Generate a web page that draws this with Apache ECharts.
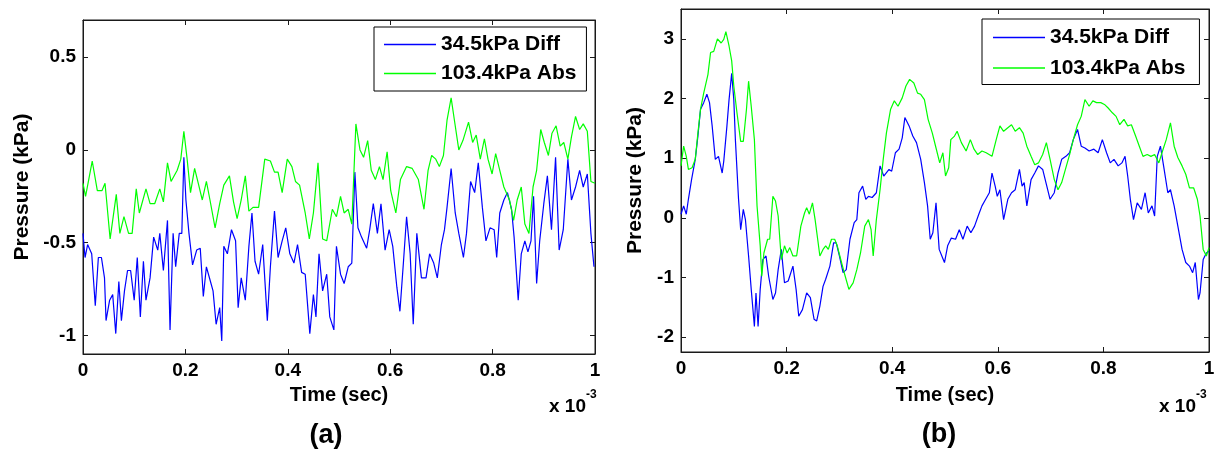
<!DOCTYPE html>
<html>
<head>
<meta charset="utf-8">
<title>Pressure vs time</title>
<script src="https://cdn.jsdelivr.net/npm/echarts@6/dist/echarts.min.js"></script>
<style>
  html, body { margin: 0; padding: 0; background: #fff; }
  #chart { width: 1218px; height: 453px; }
</style>
</head>
<body>
<div id="chart"></div>
<script>
// time in units of 1e-3 s, pressure in kPa
const diffA = [[0.000,-0.45],[0.004,-0.58],[0.009,-0.51],[0.017,-0.56],[0.024,-0.84],[0.030,-0.58],[0.036,-0.58],[0.042,-0.69],[0.045,-0.92],[0.052,-0.81],[0.058,-0.78],[0.064,-0.99],[0.070,-0.71],[0.075,-0.92],[0.081,-0.76],[0.087,-0.65],[0.093,-0.65],[0.100,-0.81],[0.106,-0.58],[0.112,-0.90],[0.118,-0.60],[0.123,-0.81],[0.131,-0.69],[0.138,-0.47],[0.146,-0.54],[0.150,-0.45],[0.157,-0.65],[0.165,-0.38],[0.170,-0.97],[0.176,-0.45],[0.181,-0.63],[0.188,-0.45],[0.193,-0.45],[0.197,-0.04],[0.201,-0.27],[0.207,-0.45],[0.214,-0.62],[0.222,-0.54],[0.229,-0.53],[0.235,-0.79],[0.241,-0.63],[0.248,-0.70],[0.254,-0.76],[0.260,-0.94],[0.267,-0.85],[0.271,-1.03],[0.275,-0.52],[0.282,-0.56],[0.290,-0.43],[0.298,-0.49],[0.303,-0.85],[0.309,-0.69],[0.317,-0.81],[0.324,-0.52],[0.330,-0.34],[0.336,-0.60],[0.343,-0.67],[0.351,-0.51],[0.360,-0.92],[0.366,-0.63],[0.374,-0.33],[0.381,-0.58],[0.389,-0.49],[0.396,-0.42],[0.404,-0.56],[0.412,-0.61],[0.419,-0.51],[0.427,-0.66],[0.434,-0.67],[0.443,-0.99],[0.450,-0.78],[0.455,-0.90],[0.461,-0.56],[0.468,-0.76],[0.476,-0.67],[0.482,-0.90],[0.490,-0.97],[0.495,-0.52],[0.503,-0.67],[0.510,-0.72],[0.518,-0.63],[0.525,-0.61],[0.531,-0.12],[0.537,-0.42],[0.544,-0.47],[0.554,-0.53],[0.560,-0.43],[0.567,-0.29],[0.575,-0.45],[0.582,-0.29],[0.590,-0.54],[0.598,-0.43],[0.605,-0.52],[0.613,-0.74],[0.619,-0.87],[0.626,-0.60],[0.632,-0.36],[0.639,-0.56],[0.645,-0.94],[0.652,-0.45],[0.661,-0.69],[0.670,-0.69],[0.677,-0.56],[0.685,-0.61],[0.692,-0.69],[0.700,-0.51],[0.706,-0.43],[0.711,-0.31],[0.719,-0.10],[0.727,-0.34],[0.734,-0.45],[0.743,-0.58],[0.749,-0.45],[0.757,-0.17],[0.765,-0.23],[0.772,-0.07],[0.780,-0.31],[0.787,-0.49],[0.795,-0.42],[0.803,-0.43],[0.808,-0.58],[0.814,-0.34],[0.822,-0.27],[0.829,-0.23],[0.837,-0.32],[0.842,-0.47],[0.850,-0.81],[0.856,-0.56],[0.863,-0.49],[0.869,-0.55],[0.875,-0.49],[0.880,-0.25],[0.886,-0.72],[0.892,-0.49],[0.900,-0.29],[0.907,-0.14],[0.915,-0.43],[0.923,-0.04],[0.930,-0.54],[0.938,-0.43],[0.947,-0.05],[0.954,-0.27],[0.962,-0.20],[0.970,-0.11],[0.977,-0.20],[0.985,-0.13],[0.992,-0.45],[0.998,-0.63]]

const absA = [[0.000,-0.18],[0.005,-0.25],[0.018,-0.06],[0.028,-0.22],[0.037,-0.22],[0.043,-0.18],[0.053,-0.48],[0.065,-0.24],[0.072,-0.45],[0.080,-0.36],[0.089,-0.45],[0.096,-0.45],[0.104,-0.21],[0.110,-0.34],[0.123,-0.21],[0.131,-0.29],[0.140,-0.29],[0.150,-0.21],[0.157,-0.28],[0.165,-0.07],[0.172,-0.17],[0.184,-0.11],[0.191,-0.05],[0.197,0.10],[0.203,-0.04],[0.210,-0.23],[0.218,-0.10],[0.226,-0.19],[0.233,-0.27],[0.241,-0.17],[0.248,-0.27],[0.258,-0.42],[0.267,-0.29],[0.275,-0.19],[0.286,-0.14],[0.294,-0.28],[0.301,-0.37],[0.309,-0.27],[0.317,-0.14],[0.324,-0.33],[0.332,-0.31],[0.343,-0.31],[0.355,-0.05],[0.366,-0.06],[0.374,-0.12],[0.381,-0.12],[0.389,-0.23],[0.399,-0.05],[0.408,-0.09],[0.415,-0.17],[0.423,-0.19],[0.434,-0.34],[0.442,-0.48],[0.450,-0.34],[0.459,-0.07],[0.468,-0.48],[0.476,-0.49],[0.487,-0.32],[0.495,-0.36],[0.503,-0.25],[0.510,-0.34],[0.518,-0.32],[0.525,-0.40],[0.533,0.14],[0.541,0.00],[0.548,-0.04],[0.556,0.05],[0.563,-0.11],[0.571,-0.16],[0.579,-0.09],[0.586,-0.16],[0.594,-0.01],[0.601,-0.22],[0.611,-0.34],[0.620,-0.16],[0.632,-0.09],[0.643,-0.10],[0.655,-0.16],[0.666,-0.32],[0.674,-0.11],[0.681,-0.03],[0.689,-0.05],[0.696,-0.09],[0.704,-0.03],[0.711,0.16],[0.719,0.28],[0.727,0.13],[0.734,0.00],[0.742,0.05],[0.753,0.15],[0.761,0.04],[0.768,0.08],[0.776,-0.05],[0.784,0.06],[0.791,-0.05],[0.799,-0.13],[0.806,-0.02],[0.814,-0.11],[0.822,-0.20],[0.833,-0.27],[0.841,-0.38],[0.848,-0.27],[0.856,-0.20],[0.863,-0.40],[0.871,-0.45],[0.879,-0.20],[0.886,-0.11],[0.894,0.11],[0.901,0.04],[0.909,-0.03],[0.916,0.09],[0.924,0.13],[0.932,0.02],[0.939,0.04],[0.947,-0.05],[0.954,0.07],[0.962,0.18],[0.970,0.11],[0.977,0.14],[0.985,0.10],[0.992,-0.17],[1.000,-0.18]]

const diffB = [[0.000,0.06],[0.005,0.20],[0.010,0.06],[0.014,0.31],[0.020,0.64],[0.027,0.98],[0.032,1.37],[0.037,1.82],[0.043,1.93],[0.049,2.07],[0.054,1.93],[0.059,1.54],[0.065,0.98],[0.071,1.03],[0.078,0.75],[0.081,0.95],[0.087,1.54],[0.091,1.98],[0.096,2.42],[0.100,1.98],[0.103,1.31],[0.109,0.31],[0.113,-0.20],[0.118,0.14],[0.122,-0.03],[0.128,-0.64],[0.133,-1.20],[0.139,-1.82],[0.142,-1.26],[0.146,-1.82],[0.150,-1.20],[0.155,-0.70],[0.161,-0.64],[0.166,-0.98],[0.174,-1.37],[0.179,-1.26],[0.184,-0.87],[0.190,-0.53],[0.196,-1.09],[0.203,-1.06],[0.212,-0.81],[0.218,-1.20],[0.223,-1.65],[0.230,-1.54],[0.238,-1.26],[0.245,-1.34],[0.252,-1.70],[0.257,-1.73],[0.263,-1.48],[0.269,-1.15],[0.274,-1.03],[0.282,-0.81],[0.289,-0.42],[0.294,-0.42],[0.300,-0.64],[0.307,-0.92],[0.313,-0.87],[0.320,-0.36],[0.328,-0.08],[0.333,-0.03],[0.337,0.42],[0.344,0.53],[0.350,0.31],[0.355,0.36],[0.362,0.34],[0.370,0.42],[0.377,0.87],[0.384,0.70],[0.394,0.81],[0.399,0.78],[0.406,1.09],[0.413,1.15],[0.419,1.34],[0.424,1.68],[0.432,1.54],[0.439,1.37],[0.446,1.26],[0.454,0.98],[0.461,0.59],[0.467,0.20],[0.472,-0.36],[0.477,-0.25],[0.483,0.25],[0.489,-0.53],[0.494,-0.64],[0.499,-0.75],[0.505,-0.47],[0.512,-0.34],[0.520,-0.36],[0.527,-0.20],[0.534,-0.36],[0.542,-0.14],[0.549,-0.25],[0.556,-0.14],[0.564,0.06],[0.570,0.20],[0.577,0.31],[0.584,0.42],[0.589,0.75],[0.595,0.53],[0.599,0.36],[0.604,0.47],[0.611,-0.03],[0.619,0.31],[0.626,0.42],[0.633,0.47],[0.641,0.81],[0.646,0.53],[0.650,0.59],[0.655,0.20],[0.663,0.64],[0.670,0.75],[0.677,0.87],[0.685,0.81],[0.692,0.56],[0.699,0.31],[0.707,0.42],[0.714,0.75],[0.721,0.98],[0.729,1.03],[0.736,1.09],[0.743,1.31],[0.751,1.48],[0.758,1.20],[0.765,1.17],[0.773,1.12],[0.782,1.15],[0.790,1.09],[0.798,1.31],[0.806,1.09],[0.813,0.92],[0.820,0.98],[0.828,0.87],[0.835,0.92],[0.841,1.03],[0.846,0.70],[0.851,0.31],[0.857,-0.03],[0.864,0.25],[0.872,0.14],[0.879,0.42],[0.885,0.08],[0.892,0.20],[0.897,0.03],[0.902,1.03],[0.908,1.20],[0.914,0.87],[0.922,0.42],[0.927,0.47],[0.934,0.20],[0.941,-0.14],[0.949,-0.53],[0.956,-0.75],[0.963,-0.81],[0.969,-0.92],[0.974,-0.75],[0.980,-1.37],[0.983,-1.26],[0.989,-0.70],[0.995,-0.59],[1.000,-0.56]]

const absB = [[0.000,0.87],[0.005,1.20],[0.010,1.03],[0.014,0.81],[0.021,0.84],[0.027,0.98],[0.032,1.42],[0.037,1.82],[0.043,2.09],[0.051,2.40],[0.056,2.77],[0.062,2.79],[0.069,3.00],[0.076,2.93],[0.081,2.99],[0.085,3.12],[0.091,2.88],[0.096,2.63],[0.100,2.21],[0.106,1.76],[0.113,1.28],[0.118,1.28],[0.124,1.82],[0.128,2.29],[0.133,1.87],[0.139,1.31],[0.144,0.20],[0.150,-0.47],[0.153,-0.98],[0.157,-0.59],[0.164,-0.36],[0.168,-0.36],[0.174,0.36],[0.179,0.28],[0.184,0.03],[0.190,-0.70],[0.196,-0.47],[0.201,-0.59],[0.206,-0.50],[0.212,-0.64],[0.219,-0.64],[0.227,-0.14],[0.234,0.08],[0.238,0.17],[0.243,0.06],[0.249,0.25],[0.254,-0.03],[0.263,-0.64],[0.269,-0.53],[0.274,-0.47],[0.279,-0.53],[0.285,-0.36],[0.291,-0.36],[0.296,-0.47],[0.304,-0.75],[0.311,-0.98],[0.318,-1.20],[0.326,-1.09],[0.333,-0.87],[0.340,-0.59],[0.348,-0.14],[0.355,-0.03],[0.360,-0.20],[0.364,-0.64],[0.370,-0.03],[0.377,0.47],[0.383,0.98],[0.389,1.42],[0.397,1.82],[0.404,1.96],[0.411,1.87],[0.419,2.01],[0.426,2.21],[0.433,2.32],[0.441,2.26],[0.448,2.09],[0.454,2.07],[0.461,1.98],[0.468,1.65],[0.476,1.42],[0.483,1.17],[0.490,0.92],[0.496,1.09],[0.501,0.70],[0.507,0.84],[0.511,1.31],[0.518,1.37],[0.523,1.45],[0.531,1.26],[0.540,1.12],[0.548,1.31],[0.555,1.15],[0.562,1.06],[0.570,1.12],[0.578,1.09],[0.589,1.03],[0.597,1.31],[0.604,1.54],[0.611,1.45],[0.619,1.51],[0.626,1.56],[0.633,1.45],[0.641,1.51],[0.648,1.42],[0.655,1.20],[0.663,1.03],[0.670,0.89],[0.677,0.92],[0.685,1.06],[0.692,1.26],[0.699,0.98],[0.707,0.64],[0.714,0.47],[0.721,0.59],[0.729,0.84],[0.736,1.06],[0.743,1.31],[0.751,1.56],[0.758,1.70],[0.765,1.98],[0.773,1.87],[0.780,1.96],[0.787,1.93],[0.795,1.93],[0.802,1.90],[0.809,1.84],[0.817,1.76],[0.824,1.70],[0.831,1.56],[0.839,1.65],[0.846,1.54],[0.853,1.56],[0.861,1.37],[0.868,1.20],[0.875,1.03],[0.883,1.06],[0.890,1.03],[0.897,1.06],[0.905,0.92],[0.912,1.12],[0.919,1.31],[0.927,1.59],[0.934,1.20],[0.941,1.01],[0.949,0.87],[0.956,0.73],[0.963,0.50],[0.971,0.50],[0.978,0.31],[0.983,0.03],[0.989,-0.53],[0.995,-0.64],[1.000,-0.50]]

const seriesNames = ['34.5kPa Diff', '103.4kPa Abs']
const seriesColors = ['#0000ff', '#00ff00']
const timeTicks = [0, 0.2, 0.4, 0.6, 0.8, 1]
const pressureTicksA = [-1, -0.5, 0, 0.5]
const pressureTicksB = [-2, -1, 0, 1, 2, 3]

const FONT = 'Liberation Sans, Arial, sans-serif'
const AXIS_COLOR = '#1a1a1a'

/**
 * One axis of a boxed MATLAB-style plot; mirror axes carry ticks only
 */
function makeAxis(pos, gridIndex, min, max, ticks, opts) {
  const mirror = pos === 'top' || pos === 'right'
  return Object.assign({
    type: 'value',
    gridIndex,
    position: pos,
    min,
    max,
    splitLine: { show: false },
    axisLine: { show: true, onZero: false, lineStyle: { color: AXIS_COLOR, width: 1 } },
    axisTick: { show: true, inside: true, length: 5, customValues: ticks, lineStyle: { color: AXIS_COLOR } },
    axisLabel: {
      show: !mirror,
      customValues: ticks,
      color: '#000',
      fontFamily: FONT,
      fontWeight: 'bold',
      fontSize: 19,
      margin: 7
    }
  }, opts || {})
}

function nameStyle(size) {
  return { color: '#000', fontFamily: FONT, fontWeight: 'bold', fontSize: size }
}

// legend sample is a plain short line, no marker
function makeLegend(left, top, gap, padding) {
  return {
    orient: 'vertical',
    left,
    top,
    icon: 'rect',
    itemWidth: 52,
    itemHeight: 1.4,
    itemGap: gap,
    padding,
    backgroundColor: '#fff',
    borderColor: '#000',
    borderWidth: 1,
    borderRadius: 0,
    data: seriesNames,
    selectedMode: false,
    textStyle: { color: '#000', fontFamily: FONT, fontWeight: 'bold', fontSize: 21 }
  }
}

function makeLine(name, data, color, axisIndex) {
  return {
    name,
    type: 'line',
    data,
    xAxisIndex: axisIndex,
    yAxisIndex: axisIndex,
    symbol: 'none',
    animation: false,
    lineStyle: { color, width: 1.2 },
    itemStyle: { color }
  }
}

function boldText(x, y, text, size, align, vAlign) {
  return {
    type: 'text',
    x,
    y,
    style: {
      text,
      fill: '#000',
      font: 'bold ' + size + 'px ' + FONT,
      align,
      verticalAlign: vAlign
    }
  }
}

const chart = echarts.init(document.getElementById('chart'), null, { renderer: 'canvas' })

chart.setOption({
  backgroundColor: '#fff',
  animation: false,
  grid: [
    { left: 83, top: 20, width: 512, height: 334, show: true, borderColor: AXIS_COLOR, borderWidth: 1, backgroundColor: '#fff' },
    { left: 681, top: 9, width: 528, height: 343, show: true, borderColor: AXIS_COLOR, borderWidth: 1, backgroundColor: '#fff' }
  ],
  xAxis: [
    makeAxis('bottom', 0, 0, 1, timeTicks, { name: 'Time (sec)', nameLocation: 'middle', nameGap: 31, nameTextStyle: nameStyle(20) }),
    makeAxis('top', 0, 0, 1, timeTicks),
    makeAxis('bottom', 1, 0, 1, timeTicks, { name: 'Time (sec)', nameLocation: 'middle', nameGap: 33, nameTextStyle: nameStyle(20) }),
    makeAxis('top', 1, 0, 1, timeTicks)
  ],
  yAxis: [
    makeAxis('left', 0, -1.1, 0.7, pressureTicksA, { name: 'Pressure (kPa)', nameLocation: 'middle', nameGap: 50, nameTextStyle: nameStyle(21) }),
    makeAxis('right', 0, -1.1, 0.7, pressureTicksA),
    makeAxis('left', 1, -2.25, 3.5, pressureTicksB, { name: 'Pressure (kPa)', nameLocation: 'middle', nameGap: 35, nameTextStyle: nameStyle(21) }),
    makeAxis('right', 1, -2.25, 3.5, pressureTicksB)
  ],
  legend: [
    makeLegend(374, 27, 8, [7, 10, 7, 10]),
    makeLegend(982, 19, 9.5, [8, 14, 6, 11])
  ],
  series: [
    makeLine(seriesNames[0], diffA, seriesColors[0], 0),
    makeLine(seriesNames[1], absA, seriesColors[1], 0),
    makeLine(seriesNames[0], diffB, seriesColors[0], 2),
    makeLine(seriesNames[1], absB, seriesColors[1], 2)
  ],
  graphic: [
    // x 10^-3 exponent notes under each x axis
    boldText(586, 416, 'x 10', 19, 'right', 'bottom'),
    boldText(586, 401, '-3', 12, 'left', 'bottom'),
    boldText(1196, 416, 'x 10', 19, 'right', 'bottom'),
    boldText(1196, 401, '-3', 12, 'left', 'bottom'),
    // panel captions
    boldText(326, 436, '(a)', 27, 'center', 'middle'),
    boldText(939, 435, '(b)', 27, 'center', 'middle')
  ]
})
</script>
</body>
</html>
